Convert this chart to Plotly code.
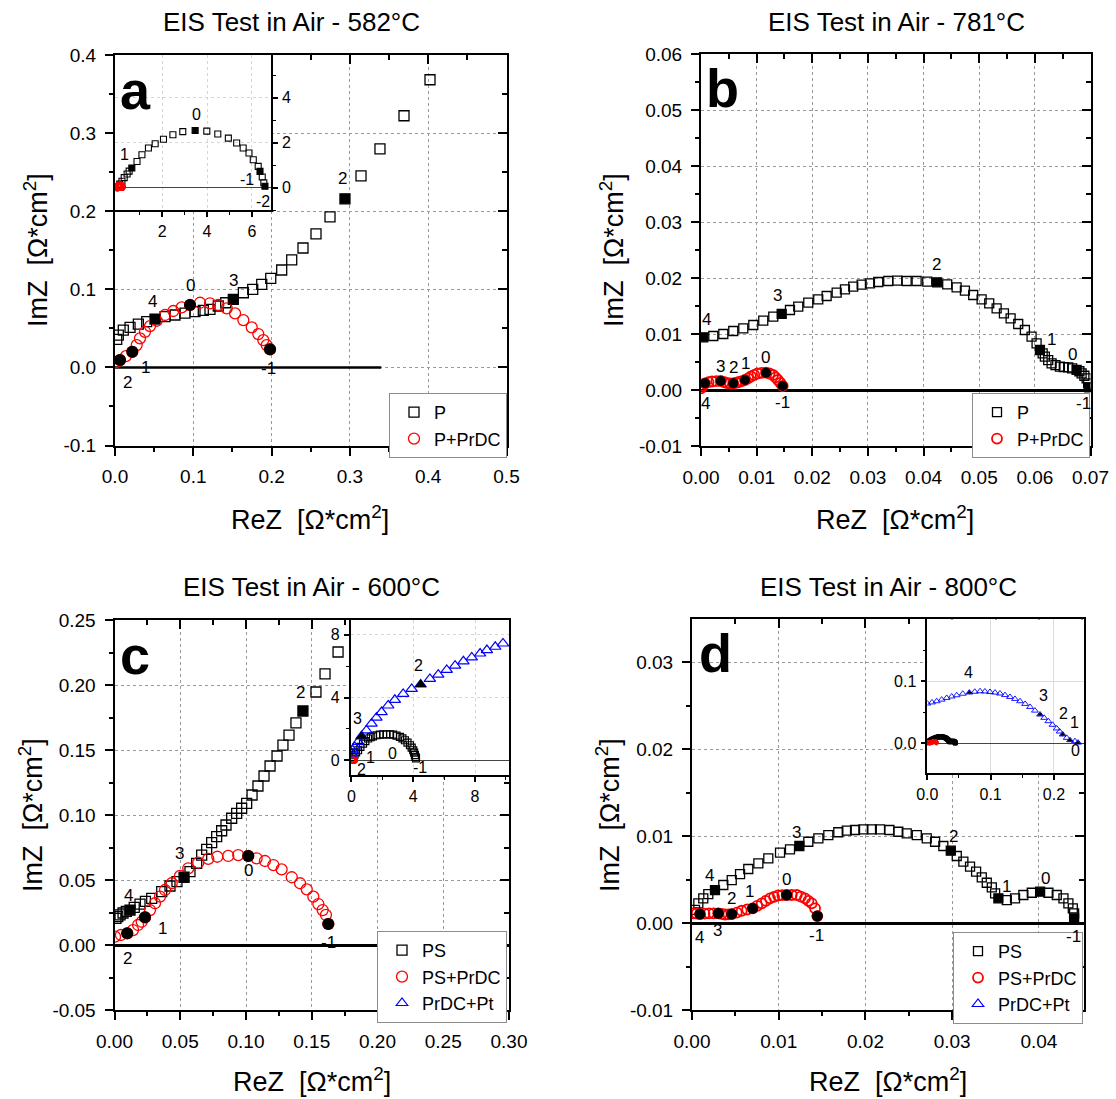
import plotly.graph_objects as go

# ===================== DATA =====================
# ---- (a) 582 °C ----
a_P_re = [0.0022, 0.0042, 0.0106, 0.0192, 0.0298, 0.0405, 0.0511, 0.0639, 0.0766, 0.0894,
          0.1022, 0.1128, 0.1213, 0.1319, 0.1414, 0.1511, 0.1639, 0.1759, 0.1874, 0.1989,
          0.2129, 0.2257, 0.2401, 0.2567, 0.2746, 0.2937, 0.3142, 0.3384, 0.3691, 0.4023]
a_P_im = [0.0359, 0.0414, 0.0478, 0.0513, 0.0555, 0.0585, 0.0619, 0.0649, 0.0671, 0.0696,
          0.0713, 0.0731, 0.0744, 0.0786, 0.0828, 0.0872, 0.0956, 0.1000, 0.1064, 0.1141,
          0.1247, 0.1376, 0.1529, 0.1709, 0.1927, 0.2158, 0.2453, 0.2799, 0.3222, 0.3683]
a_P_dec = [(6, "4"), (15, "3"), (25, "2")]

a_R_re = [0.0013, 0.0064, 0.0140, 0.0221, 0.0277, 0.0319, 0.0383, 0.0447, 0.0533, 0.0639,
          0.0745, 0.0852, 0.0958, 0.1086, 0.1213, 0.1319, 0.1427, 0.1533, 0.1639, 0.1746,
          0.1830, 0.1894, 0.1937, 0.1980]
a_R_im = [0.0068, 0.0094, 0.0145, 0.0200, 0.0286, 0.0372, 0.0456, 0.0529, 0.0597, 0.0671,
          0.0722, 0.0769, 0.0799, 0.0828, 0.0821, 0.0799, 0.0756, 0.0692, 0.0606, 0.0513,
          0.0427, 0.0350, 0.0286, 0.0231]
a_R_dec = [(1, "2"), (3, "1"), (12, "0"), (23, "-1")]

# inset (a): full P spectrum
ia_P_re = [0.04, 0.11, 0.21, 0.31, 0.44, 0.53, 0.65, 0.88, 1.10, 1.39, 1.69, 2.06, 2.48, 2.92,
           3.47, 3.99, 4.48, 4.95, 5.32, 5.61, 5.87, 6.06, 6.28, 6.36, 6.46, 6.53, 6.58]
ia_P_im = [0.04, 0.15, 0.28, 0.44, 0.60, 0.73, 0.87, 1.16, 1.46, 1.76, 1.95, 2.15, 2.35, 2.49,
           2.54, 2.51, 2.38, 2.20, 1.98, 1.76, 1.54, 1.24, 0.94, 0.72, 0.47, 0.21, 0.06]
ia_P_dec = [(6, "1"), (14, "0"), (23, "-1"), (26, "-2")]

# ---- (b) 781 °C ----
b_P_re = [0.00041, 0.00221, 0.00401, 0.0058, 0.0076, 0.0094, 0.01119, 0.01299, 0.0145, 0.01599,
          0.01748, 0.01928, 0.02107, 0.02258, 0.02438, 0.02587, 0.02736, 0.02887, 0.03036, 0.03185,
          0.03365, 0.03527, 0.03696, 0.03875, 0.04066, 0.04245, 0.04425, 0.04594, 0.04743, 0.04892,
          0.05043, 0.0518, 0.05313, 0.05444, 0.05564, 0.05701, 0.05821, 0.05941, 0.06031, 0.06091,
          0.0614, 0.0618, 0.0624, 0.06301, 0.0637, 0.0645, 0.0652, 0.06599, 0.0667, 0.0675,
          0.068, 0.0684, 0.0689, 0.0693, 0.06958, 0.06976]
b_P_im = [0.00946, 0.0097, 0.01005, 0.01059, 0.01107, 0.01166, 0.01243, 0.01314, 0.01363, 0.01434,
          0.01493, 0.01564, 0.01625, 0.01684, 0.01743, 0.01804, 0.0185, 0.01886, 0.01911, 0.01934,
          0.01952, 0.01957, 0.01952, 0.01952, 0.01939, 0.01929, 0.01893, 0.01839, 0.01779, 0.01702,
          0.01625, 0.01554, 0.01464, 0.01375, 0.01286, 0.01184, 0.01077, 0.00957, 0.00839, 0.0072,
          0.0066, 0.006, 0.0054, 0.00482, 0.0045, 0.00421, 0.00413, 0.00411, 0.0039, 0.00363,
          0.0034, 0.00304, 0.0026, 0.00214, 0.00125, 0.00054]
b_P_dec = [(0, "4"), (8, "3"), (25, "2"), (39, "1"), (49, "0"), (55, "-1")]

b_R_re = [0.0, 0.00036, 0.00072, 0.00135, 0.00198, 0.00276, 0.00354, 0.0041, 0.00467, 0.00524,
          0.0058, 0.00632, 0.00683, 0.00737, 0.00791, 0.00845, 0.00898, 0.00957, 0.01015, 0.0109,
          0.01168, 0.01231, 0.01294, 0.0134, 0.01383, 0.01428, 0.01468]
b_R_im = [0.00036, 0.0008, 0.00125, 0.00145, 0.00157, 0.00163, 0.00166, 0.00148, 0.0013, 0.00125,
          0.00125, 0.00135, 0.00148, 0.00165, 0.00184, 0.00213, 0.00246, 0.00275, 0.003, 0.00312,
          0.00314, 0.003, 0.00273, 0.00232, 0.00184, 0.0013, 0.00077]
b_R_dec = [(2, "4"), (6, "3"), (10, "2"), (14, "1"), (20, "0"), (26, "-1")]

# ---- (c) 600 °C ----
c_P_re = [0.0011, 0.0025, 0.0042, 0.0065, 0.009, 0.0118, 0.015, 0.0194, 0.0235, 0.0283,
          0.0359, 0.0422, 0.0475, 0.0529, 0.0574, 0.0625, 0.0663, 0.0701, 0.0739, 0.0777,
          0.0815, 0.0848, 0.0891, 0.0929, 0.0967, 0.1005, 0.1046, 0.1091, 0.1137, 0.1183,
          0.1236, 0.1281, 0.1327, 0.138, 0.1433, 0.1532, 0.1601, 0.17]
c_P_im = [0.0205, 0.0218, 0.0231, 0.0246, 0.0258, 0.0269, 0.029, 0.0315, 0.0336, 0.0359,
          0.041, 0.0454, 0.0487, 0.0521, 0.0564, 0.0628, 0.0692, 0.0736, 0.0787, 0.0833,
          0.0879, 0.0923, 0.0975, 0.1013, 0.1052, 0.109, 0.1154, 0.1223, 0.13, 0.1377,
          0.1454, 0.1538, 0.1615, 0.1708, 0.18, 0.1946, 0.2085, 0.2254]
c_P_dec = [(5, "4"), (13, "3"), (34, "2")]

c_R_re = [0.0004, 0.0049, 0.0097, 0.0141, 0.0179, 0.0207, 0.0232, 0.027, 0.0308, 0.0346,
          0.0384, 0.0435, 0.0498, 0.0561, 0.0637, 0.0713, 0.0782, 0.0865, 0.0941, 0.1017,
          0.1081, 0.1144, 0.1208, 0.1271, 0.1348, 0.1411, 0.1462, 0.1512, 0.155, 0.1583,
          0.1608, 0.1626]
c_R_im = [0.0064, 0.0077, 0.009, 0.0115, 0.0154, 0.0179, 0.0213, 0.0269, 0.0321, 0.0372,
          0.0423, 0.0475, 0.0531, 0.059, 0.0633, 0.0662, 0.0679, 0.0685, 0.0692, 0.0685,
          0.0667, 0.0646, 0.0615, 0.0582, 0.0521, 0.0475, 0.0428, 0.0372, 0.0315, 0.0269,
          0.0231, 0.0162]
c_R_dec = [(2, "2"), (6, "1"), (19, "0"), (31, "-1")]

# inset (c)
ic_P_re = [0.05, 0.1, 0.2, 0.3, 0.43, 0.58, 0.75, 0.9, 1.08, 1.25, 1.40, 1.62, 1.84, 2.05, 2.27,
           2.50, 2.70, 2.92, 3.14, 3.30, 3.46, 3.63, 3.79, 3.90, 4.00, 4.06, 4.11, 4.15, 4.18]
ic_P_im = [0.1, 0.21, 0.35, 0.5, 0.63, 0.85, 1.06, 1.22, 1.38, 1.47, 1.52, 1.59, 1.63, 1.65, 1.65,
           1.65, 1.63, 1.57, 1.48, 1.39, 1.27, 1.12, 0.95, 0.80, 0.63, 0.48, 0.32, 0.2, 0.11]
ic_P_dec = [(4, "1"), (14, "0"), (28, "-1")]
ic_R_dec = [(2, "2")]
ic_B_re = [0.0, 0.08, 0.21, 0.43, 0.65, 0.97, 1.3, 1.62, 1.95, 2.38, 2.81, 3.35, 3.9, 4.48,
           5.08, 5.62, 6.17, 6.71, 7.25, 7.79, 8.33, 8.77, 9.31, 9.81]
ic_B_im = [0.425, 0.63, 0.84, 1.16, 1.52, 1.9, 2.33, 2.71, 3.07, 3.49, 3.85, 4.23, 4.55, 4.83,
           5.19, 5.46, 5.76, 6.03, 6.31, 6.56, 6.81, 7.03, 7.24, 7.45]
ic_B_dec = [(4, "3"), (13, "2")]

# ---- (d) 800 °C ----
d_P_re = [0.00035, 0.00073, 0.0013, 0.00188, 0.00265, 0.00361, 0.00458, 0.00554, 0.00649, 0.00765,
          0.0088, 0.01015, 0.0113, 0.01238, 0.01341, 0.01457, 0.01572, 0.01687, 0.01784, 0.0188,
          0.01976, 0.02073, 0.02168, 0.02276, 0.02379, 0.02476, 0.02592, 0.02707, 0.02803, 0.02898,
          0.02984, 0.03053, 0.03129, 0.03206, 0.03276, 0.03341, 0.03399, 0.03457, 0.03495, 0.03533,
          0.0363, 0.03725, 0.03821, 0.03918, 0.04014, 0.0411, 0.04206, 0.04283, 0.0434, 0.04391,
          0.04406, 0.04406]
d_P_im = [0.0015, 0.00226, 0.00284, 0.00333, 0.00379, 0.00437, 0.00494, 0.00563, 0.00621, 0.00686,
          0.00744, 0.00808, 0.00847, 0.00885, 0.00934, 0.00974, 0.01011, 0.01043, 0.01061, 0.01069,
          0.01077, 0.01077, 0.01077, 0.01069, 0.01049, 0.01031, 0.01011, 0.00974, 0.00934, 0.00885,
          0.00831, 0.0077, 0.00705, 0.00647, 0.0059, 0.00525, 0.00463, 0.0041, 0.00341, 0.00284,
          0.00264, 0.00284, 0.00322, 0.00348, 0.0036, 0.00348, 0.00322, 0.00284, 0.00226, 0.00169,
          0.00111, 0.00054]
d_P_dec = [(4, "4"), (13, "3"), (30, "2"), (39, "1"), (44, "0"), (51, "-1")]

d_R_re = [0.00015, 0.00054, 0.00092, 0.00144, 0.00196, 0.0025, 0.00303, 0.00342, 0.00381, 0.0042,
          0.00458, 0.00516, 0.00573, 0.00636, 0.007, 0.00752, 0.00804, 0.00852, 0.009, 0.00946,
          0.00992, 0.01042, 0.01092, 0.0115, 0.01208, 0.01255, 0.01303, 0.01342, 0.01381, 0.01419,
          0.01445]
d_R_im = [0.00111, 0.00107, 0.00103, 0.00107, 0.00111, 0.00111, 0.00111, 0.00104, 0.00098, 0.001,
          0.00103, 0.0012, 0.00141, 0.00155, 0.00169, 0.00197, 0.00226, 0.00255, 0.00284, 0.003,
          0.00316, 0.0032, 0.00322, 0.00322, 0.00322, 0.00303, 0.00284, 0.00255, 0.00226, 0.00169,
          0.0008]
d_R_dec = [(2, "4"), (6, "3"), (10, "2"), (14, "1"), (22, "0"), (30, "-1")]

# inset (d)
id_B_re = [0.0, 0.0074, 0.0148, 0.0227, 0.0306, 0.0385, 0.0464, 0.056, 0.0664, 0.075, 0.0833,
           0.091, 0.099, 0.107, 0.1148, 0.1227, 0.1306, 0.1385, 0.1465, 0.1545, 0.1623, 0.170,
           0.1781, 0.1846, 0.1912, 0.1978, 0.2044, 0.209, 0.2139, 0.2202, 0.2254, 0.2333, 0.2381]
id_B_im = [0.0642, 0.066, 0.0679, 0.0705, 0.0732, 0.0755, 0.0775, 0.080, 0.0819, 0.0832, 0.0839,
           0.0836, 0.0828, 0.0818, 0.0803, 0.0778, 0.0748, 0.0716, 0.0679, 0.0636, 0.0587, 0.0528,
           0.0465, 0.0412, 0.0358, 0.03, 0.0241, 0.0192, 0.0144, 0.009, 0.0053, 0.0037, 0.0013]
id_B_dec = [(8, "4"), (22, "3"), (28, "2"), (30, "1"), (32, "0")]

# y tick values of the four main panels (labels use a plain hyphen minus)
a_yticks = [-0.1, 0.0, 0.1, 0.2, 0.3, 0.4]
b_yticks = [-0.01, 0.0, 0.01, 0.02, 0.03, 0.04, 0.05, 0.06]
c_yticks = [-0.05, 0.0, 0.05, 0.10, 0.15, 0.20, 0.25]
d_yticks = [-0.01, 0.0, 0.01, 0.02, 0.03]

titles = ["EIS Test in Air - 582°C", "EIS Test in Air - 781°C",
          "EIS Test in Air - 600°C", "EIS Test in Air - 800°C"]
letters = ["a", "b", "c", "d"]
x_title = "ReZ  [Ω*cm<sup>2</sup>]"
y_title = "ImZ  [Ω*cm<sup>2</sup>]"

# ===================== STYLE =====================
W, H = 1116, 1099
FONT = "Liberation Sans, Arial, sans-serif"
BLACK, RED, BLUE = "#000000", "#ff0000", "#0000ff"
GRID = "#9a9a9a"


def fx(px):
    return px / W


def fy(py):
    return 1 - py / H


def sfx(n):
    return "" if n == 1 else str(n)


def XA(n):
    return "x" + sfx(n)


def YA(n):
    return "y" + sfx(n)


OFF = {
    "a_P": [(-3, 18), (0, 19), (-2, 20)],
    "a_R": [(7, -22), (13, -16), (0, 20), (-2, -19)],
    "ia_P": [(-7, 13), (1, 16), (-13, -8), (-2, -15)],
    "b_P": [(3, 18), (-4, 18), (-1, 18), (12, 10), (-4, 15), (-6, -16)],
    "b_R": [(0, -20), (0, 15), (0, 16), (0, 17), (0, 15), (0, -17)],
    "c_P": [(-2, 15), (-5, 24), (-2, 19)],
    "c_R": [(0, -25), (17, -11), (0, -15), (0, -19)],
    "ic_P": [(12, -7), (6, -19), (4, -9)],
    "ic_R": [(10, -10)],
    "ic_B": [(-4, 18), (-2, 19)],
    "d_P": [(-5, 15), (-3, 14), (3, 14), (8, 12), (5, 13), (-1, -18)],
    "d_R": [(0, -23), (-1, -17), (0, 16), (-3, 17), (0, 15), (-1, -19)],
    "id_B": [(-1, 20), (3, 19), (1, 21), (4, 18), (-3, -8)],
}

fig = go.Figure()


def series(x, y, xa, ya, sym, color, size, name=None, legend=None, lw=1.3):
    fig.add_trace(go.Scatter(
        x=x, y=y, mode="markers", xaxis=xa, yaxis=ya,
        marker=dict(symbol=sym, size=size, color=color, line=dict(width=lw, color=color)),
        name=name, showlegend=name is not None, legend=legend, hoverinfo="skip"))


def decades(x, y, dec, offs, xa, ya, sym, size, fsize, filled=True, lxa=None, lya=None):
    idx = [d[0] for d in dec]
    if filled:
        fig.add_trace(go.Scatter(
            x=[x[i] for i in idx], y=[y[i] for i in idx], mode="markers",
            xaxis=xa, yaxis=ya, showlegend=False, hoverinfo="skip",
            marker=dict(symbol=sym, size=size, color=BLACK, line=dict(width=0))))
    for (i, lab), (dx, dy) in zip(dec, offs):
        fig.add_annotation(x=x[i], y=y[i], xref=lxa or xa, yref=lya or ya, text=lab,
                           showarrow=False, xshift=dx, yshift=dy,
                           font=dict(size=fsize, color=BLACK, family=FONT))


TOP = {i: "x" + str(7 + i) for i in range(1, 5)}
RIGHT = {i: "y" + str(7 + i) for i in range(1, 5)}

# ---- panel a ----
series(a_P_re, a_P_im, XA(1), YA(1), "square-open", BLACK, 10, "P", "legend")
series(a_R_re, a_R_im, XA(1), YA(1), "circle-open", RED, 11, "P+PrDC", "legend")
decades(a_P_re, a_P_im, a_P_dec, OFF["a_P"], TOP[1], YA(1), "square", 10, 17, lxa=XA(1))
decades(a_R_re, a_R_im, a_R_dec, OFF["a_R"], XA(1), RIGHT[1], "circle", 12, 17, lya=YA(1))
series(ia_P_re, ia_P_im, "x5", "y5", "square-open", BLACK, 6, lw=1.1)
series(a_R_re, a_R_im, "x5", "y5", "circle-open", RED, 7, lw=1.1)
decades(ia_P_re, ia_P_im, ia_P_dec, OFF["ia_P"], "x5", "y5", "square", 6, 16)

# ---- panel b ----
series(b_P_re, b_P_im, XA(2), YA(2), "square-open", BLACK, 9, "P", "legend2")
series(b_R_re, b_R_im, XA(2), YA(2), "circle-open", RED, 10, "P+PrDC", "legend2", lw=1.8)
decades(b_P_re, b_P_im, b_P_dec, OFF["b_P"], TOP[2], YA(2), "square", 9, 17, lxa=XA(2))
decades(b_R_re, b_R_im, b_R_dec, OFF["b_R"], XA(2), RIGHT[2], "circle", 10, 17, lya=YA(2))

# ---- panel c ----
series(c_P_re, c_P_im, XA(3), YA(3), "square-open", BLACK, 10, "PS", "legend3")
series(c_R_re, c_R_im, XA(3), YA(3), "circle-open", RED, 11, "PS+PrDC", "legend3")
decades(c_P_re, c_P_im, c_P_dec, OFF["c_P"], TOP[3], YA(3), "square", 10, 17, lxa=XA(3))
decades(c_R_re, c_R_im, c_R_dec, OFF["c_R"], XA(3), RIGHT[3], "circle", 12, 17, lya=YA(3))
series(ic_P_re, ic_P_im, "x6", "y6", "square-open", BLACK, 7, lw=1.2)
series(c_R_re, c_R_im, "x6", "y6", "circle-open", RED, 7, lw=1.1)
series(ic_B_re, ic_B_im, "x6", "y6", "triangle-up-open", BLUE, 10, "PrDC+Pt", "legend3", lw=1.2)
decades(ic_P_re, ic_P_im, ic_P_dec, OFF["ic_P"], "x6", "y6", "square", 7, 16, filled=False)
decades(c_R_re, c_R_im, ic_R_dec, OFF["ic_R"], "x6", "y6", "circle", 7, 16, filled=False)
decades(ic_B_re, ic_B_im, ic_B_dec, OFF["ic_B"], "x6", "y6", "triangle-up", 10, 16)

# ---- panel d ----
series(d_P_re, d_P_im, XA(4), YA(4), "square-open", BLACK, 9, "PS", "legend4")
series(d_R_re, d_R_im, XA(4), YA(4), "circle-open", RED, 10, "PS+PrDC", "legend4", lw=1.8)
decades(d_P_re, d_P_im, d_P_dec, OFF["d_P"], TOP[4], YA(4), "square", 9, 17, lxa=XA(4))
decades(d_R_re, d_R_im, d_R_dec, OFF["d_R"], XA(4), RIGHT[4], "circle", 11, 17, lya=YA(4))
series(d_P_re, d_P_im, "x7", "y7", "square-open", BLACK, 4, lw=1.0)
series(d_R_re, d_R_im, "x7", "y7", "circle-open", RED, 4, lw=1.0)
series(id_B_re, id_B_im, "x7", "y7", "triangle-up-open", BLUE, 6, lw=0.9)
decades(id_B_re, id_B_im, id_B_dec, OFF["id_B"], "x7", "y7", "triangle-up", 5, 16)
fig.add_trace(go.Scatter(x=[None], y=[None], mode="markers", xaxis="x4", yaxis="y4",
                         name="PrDC+Pt", legend="legend4",
                         marker=dict(symbol="triangle-up-open", size=10, color=BLUE,
                                     line=dict(width=1.2, color=BLUE))))

# ---- layout ----
PANELS = [
    dict(box=(115, 55, 506.5, 445.5), xr=[0, 0.5], yr=[-0.1, 0.4], xd=0.1, xm=0.05,
         yd=0.1, ym=0.05, fmt=".1f", nd=1, yt=a_yticks, zero=False),
    dict(box=(701, 54.3, 1090.5, 446.3), xr=[0, 0.07], yr=[-0.01, 0.06], xd=0.01, xm=0.005,
         yd=0.01, ym=0.005, fmt=".2f", nd=2, yt=b_yticks, zero=True),
    dict(box=(114.5, 620, 509, 1010), xr=[0, 0.3], yr=[-0.05, 0.25], xd=0.05, xm=0.025,
         yd=0.05, ym=0.025, fmt=".2f", nd=2, yt=c_yticks, zero=True),
    dict(box=(692, 619.4, 1084, 1010), xr=[0, 0.0452], yr=[-0.01, 0.0349], xd=0.01, xm=0.005,
         yd=0.01, ym=0.005, fmt=".2f", nd=2, yt=d_yticks, zero=True),
]

layout = dict(width=W, height=H, margin=dict(l=0, r=0, t=0, b=0, pad=0, autoexpand=False),
              paper_bgcolor="white", plot_bgcolor="white",
              font=dict(family=FONT, size=19, color=BLACK), showlegend=True)

for i, p in enumerate(PANELS, start=1):
    L, T, R, B = p["box"]
    common = dict(ticks="outside", ticklen=8, tickwidth=2, tickcolor=BLACK,
                  showline=True, linewidth=2, linecolor=BLACK, mirror=True,
                  showgrid=True, gridcolor=GRID, griddash="dot", gridwidth=1,
                  tickfont=dict(size=19), ticklabelstandoff=5, automargin=False)
    layout["xaxis" + sfx(i)] = dict(common, domain=[fx(L), fx(R)], range=p["xr"],
                                    anchor=YA(i), dtick=p["xd"], tick0=0, tickformat=p["fmt"],
                                    zeroline=False,
                                    minor=dict(dtick=p["xm"], tick0=0, ticks="outside", ticklen=4,
                                               tickwidth=1.5, tickcolor=BLACK, showgrid=False))
    layout["yaxis" + sfx(i)] = dict(common, domain=[fy(B), fy(T)], range=p["yr"],
                                    anchor=XA(i), tickmode="array", tickvals=p["yt"],
                                    ticktext=[f"{v:.{p['nd']}f}" for v in p["yt"]],
                                    zeroline=p["zero"], zerolinecolor=BLACK, zerolinewidth=2.5,
                                    minor=dict(dtick=p["ym"], tick0=0, ticks="outside", ticklen=4,
                                               tickwidth=1.5, tickcolor=BLACK, showgrid=False))
    inside = dict(ticks="inside", ticklen=9, tickwidth=2, tickcolor=BLACK, tick0=0,
                  showticklabels=False, showgrid=False, zeroline=False, showline=False,
                  automargin=False, layer="above traces")
    layout["xaxis" + str(7 + i)] = dict(inside, overlaying=XA(i), anchor=YA(i),
                                        side="top", range=p["xr"], dtick=p["xd"],
                                        minor=dict(dtick=p["xm"], tick0=0, ticks="inside", ticklen=5,
                                                   tickwidth=1.5, tickcolor=BLACK, showgrid=False))
    layout["yaxis" + str(7 + i)] = dict(inside, overlaying=YA(i), anchor=XA(i),
                                        side="right", range=p["yr"], dtick=p["yd"],
                                        minor=dict(dtick=p["ym"], tick0=0, ticks="inside", ticklen=5,
                                                   tickwidth=1.5, tickcolor=BLACK, showgrid=False))

inset_common = dict(ticks="outside", ticklen=5, tickwidth=1.5, tickcolor=BLACK,
                    showline=True, linewidth=1.5, linecolor=BLACK, mirror=True,
                    showgrid=True, gridwidth=1, zeroline=False, tickfont=dict(size=16),
                    ticklabelstandoff=1, automargin=False)
minor_in = dict(ticks="outside", ticklen=3, tickwidth=1.2, tickcolor=BLACK, showgrid=False)

layout["xaxis5"] = dict(inset_common, domain=[fx(115), fx(271)], range=[-0.1, 6.85], anchor="y5",
                        tickvals=[2, 4, 6], gridcolor="#d5d5d5", griddash="dot",
                        minor=dict(minor_in, tickvals=[1, 3, 5]))
layout["yaxis5"] = dict(inset_common, domain=[fy(210), fy(55)], range=[-1.0, 5.9], anchor="x5",
                        side="right", dtick=2, tick0=0, gridcolor="#d5d5d5", griddash="dot",
                        zeroline=True, zerolinecolor="#444444", zerolinewidth=1.2,
                        minor=dict(minor_in, dtick=1, tick0=0))
layout["xaxis6"] = dict(inset_common, domain=[fx(350.5), fx(509)], range=[-0.06, 10.2], anchor="y6",
                        dtick=4, tick0=0, gridcolor="#d5d5d5", griddash="dot",
                        minor=dict(minor_in, dtick=2, tick0=0))
layout["yaxis6"] = dict(inset_common, domain=[fy(775), fy(620)], range=[-0.95, 8.95], anchor="x6",
                        dtick=4, tick0=0, gridcolor="#d5d5d5", griddash="dot",
                        zeroline=True, zerolinecolor="#444444", zerolinewidth=1.2,
                        minor=dict(minor_in, dtick=2, tick0=0))
layout["xaxis7"] = dict(inset_common, domain=[fx(927.3), fx(1084)], range=[0, 0.2475], anchor="y7",
                        dtick=0.1, tick0=0, tickformat=".1f", gridcolor="#dcdcdc",
                        minor=dict(minor_in, dtick=0.05, tick0=0))
layout["yaxis7"] = dict(inset_common, domain=[fy(773.3), fy(619.4)], range=[-0.048, 0.1995],
                        anchor="x7", dtick=0.1, tick0=0, tickformat=".1f", gridcolor="#dcdcdc",
                        zeroline=True, zerolinecolor="#444444", zerolinewidth=1.2,
                        minor=dict(minor_in, dtick=0.05, tick0=0))

leg_common = dict(bgcolor="white", bordercolor="#8c8c8c", borderwidth=1, xanchor="right",
                  yanchor="top", font=dict(size=18, family=FONT, color=BLACK),
                  tracegroupgap=0, itemsizing="trace", indentation=4)
layout["legend"] = dict(leg_common, x=fx(507), y=fy(393))
layout["legend2"] = dict(leg_common, x=fx(1090), y=fy(393))
layout["legend3"] = dict(leg_common, x=fx(507), y=fy(931))
layout["legend4"] = dict(leg_common, x=fx(1083), y=fy(932))

fig.update_layout(**layout)

fig.add_shape(type="line", xref="x", yref="y", x0=0, x1=0.34, y0=0, y1=0,
              line=dict(color=BLACK, width=2.5), layer="between")

TITLE_POS = [(291, 22), (896, 22), (312, 587), (888, 587)]
XT_POS = [(310, 518), (895, 518), (312, 1080), (888, 1080)]
YT_POS = [(36, 250), (612, 250), (31, 815), (608, 815)]
LET_POS = [(135, 90), (722, 88), (135, 655), (716, 653)]
for k in range(4):
    fig.add_annotation(x=fx(TITLE_POS[k][0]), y=fy(TITLE_POS[k][1]), xref="paper", yref="paper",
                       text=titles[k], showarrow=False, xanchor="center", yanchor="middle",
                       font=dict(size=26, family=FONT, color=BLACK))
    fig.add_annotation(x=fx(XT_POS[k][0]), y=fy(XT_POS[k][1]), xref="paper", yref="paper",
                       text=x_title, showarrow=False, xanchor="center", yanchor="middle",
                       font=dict(size=27, family=FONT, color=BLACK))
    fig.add_annotation(x=fx(YT_POS[k][0]), y=fy(YT_POS[k][1]), xref="paper", yref="paper",
                       text=y_title, showarrow=False, xanchor="center", yanchor="middle",
                       textangle=-90, font=dict(size=27, family=FONT, color=BLACK))
    fig.add_annotation(x=fx(LET_POS[k][0]), y=fy(LET_POS[k][1]), xref="paper", yref="paper",
                       text="<b>" + letters[k] + "</b>", showarrow=False, xanchor="center",
                       yanchor="middle", font=dict(size=54, family=FONT, color=BLACK))

fig.write_html("out.html")
